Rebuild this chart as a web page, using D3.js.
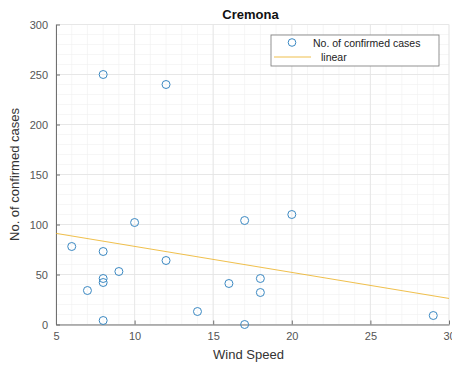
<!DOCTYPE html>
<html><head><meta charset="utf-8">
<script src="https://cdn.jsdelivr.net/npm/d3@7"></script>
<style>
body{margin:0;background:#fff;}
svg{display:block;font-family:"Liberation Sans",Arial,Helvetica,sans-serif;}
</style></head>
<body><svg id="c" width="452" height="368"></svg>
<script>
const windSpeed = [8,12,10,17,20,6,8,12,9,8,8,7,8,14,16,18,18,17,29];
const cases     = [250,240,102,104,110,78,73,64,53,46,42,34,4,13,41,46,32,0,9];
const xTicks = [5,10,15,20,25,30];
const yTicks = [0,50,100,150,200,250,300];
const title = "Cremona";
const xLabel = "Wind Speed";
const yLabel = "No. of confirmed cases";
const legendLabels = ["No. of confirmed cases","linear"];

const svg = d3.select("#c");
const L=56, R=449, T=24.5, B=324.5;
const x = d3.scaleLinear().domain([5,30]).range([L,R]);
const y = d3.scaleLinear().domain([0,300]).range([B,T]);

// minor grid
const g = svg.append("g");
g.selectAll(".mx").data(d3.range(5,31,1)).join("line")
 .attr("x1",d=>x(d)).attr("x2",d=>x(d)).attr("y1",T).attr("y2",B)
 .attr("stroke","#f0f0f0").attr("stroke-width",0.6);
g.selectAll(".my").data(d3.range(0,301,10)).join("line")
 .attr("y1",d=>y(d)).attr("y2",d=>y(d)).attr("x1",L).attr("x2",R)
 .attr("stroke","#f0f0f0").attr("stroke-width",0.6);
// major grid
g.selectAll(".gx").data(xTicks).join("line")
 .attr("x1",d=>x(d)).attr("x2",d=>x(d)).attr("y1",T).attr("y2",B)
 .attr("stroke","#e3e3e3").attr("stroke-width",0.8);
g.selectAll(".gy").data(yTicks).join("line")
 .attr("y1",d=>y(d)).attr("y2",d=>y(d)).attr("x1",L).attr("x2",R)
 .attr("stroke","#e3e3e3").attr("stroke-width",0.8);

// axes (ticks inward)
const ax = svg.append("g").attr("transform",`translate(0,${B})`)
 .call(d3.axisBottom(x).tickValues(xTicks).tickSizeInner(-4).tickSizeOuter(0).tickPadding(8));
const ay = svg.append("g").attr("transform",`translate(${L},0)`)
 .call(d3.axisLeft(y).tickValues(yTicks).tickSizeInner(-4).tickSizeOuter(0).tickPadding(8));
[ax,ay].forEach(a=>{
  a.select(".domain").attr("stroke","#707070").attr("stroke-width",1);
  a.selectAll(".tick line").attr("stroke","#707070");
  a.selectAll(".tick text").attr("fill","#555").style("font-size","11px");
});

// regression line
const n = windSpeed.length;
const mx = d3.mean(windSpeed), my = d3.mean(cases);
let sxy=0,sxx=0;
for(let i=0;i<n;i++){sxy+=(windSpeed[i]-mx)*(cases[i]-my);sxx+=(windSpeed[i]-mx)**2;}
const slope = sxy/sxx, icpt = my - slope*mx;
svg.append("line")
 .attr("x1",x(5)).attr("y1",y(icpt+slope*5))
 .attr("x2",x(30)).attr("y2",y(icpt+slope*30))
 .attr("stroke","#EDB120").attr("stroke-width",1).attr("opacity",0.8);

// points
svg.append("g").selectAll("circle").data(windSpeed.map((d,i)=>[d,cases[i]])).join("circle")
 .attr("cx",d=>x(d[0])).attr("cy",d=>y(d[1])).attr("r",4)
 .attr("fill","none").attr("stroke","#3a88c2").attr("stroke-width",1);

// title & labels
svg.append("text").attr("x",(L+R)/2 - 2).attr("y",19).attr("text-anchor","middle")
 .style("font-size","13px").style("font-weight","bold").attr("fill","#111").text(title);
svg.append("text").attr("x",(L+R)/2 - 4).attr("y",359).attr("text-anchor","middle")
 .style("font-size","13px").attr("fill","#333").text(xLabel);
svg.append("text").attr("transform",`translate(19,${(T+B)/2}) rotate(-90)`).attr("text-anchor","middle")
 .style("font-size","13px").attr("fill","#333").text(yLabel);

// legend
const lg = svg.append("g");
lg.append("rect").attr("x",271).attr("y",35).attr("width",168).attr("height",31)
 .attr("fill","#fff").attr("stroke","#777").attr("stroke-width",0.8);
lg.append("circle").attr("cx",292).attr("cy",42.5).attr("r",3.8)
 .attr("fill","none").attr("stroke","#3a88c2").attr("stroke-width",1);
lg.append("line").attr("x1",274).attr("x2",311).attr("y1",57).attr("y2",57)
 .attr("stroke","#EDB120").attr("stroke-width",1).attr("opacity",0.8);
lg.append("text").attr("x",313).attr("y",46.5).style("font-size","10.5px").attr("fill","#222").text(legendLabels[0]);
lg.append("text").attr("x",321).attr("y",60.5).style("font-size","10.5px").attr("fill","#222").text(legendLabels[1]);
</script></body></html>
